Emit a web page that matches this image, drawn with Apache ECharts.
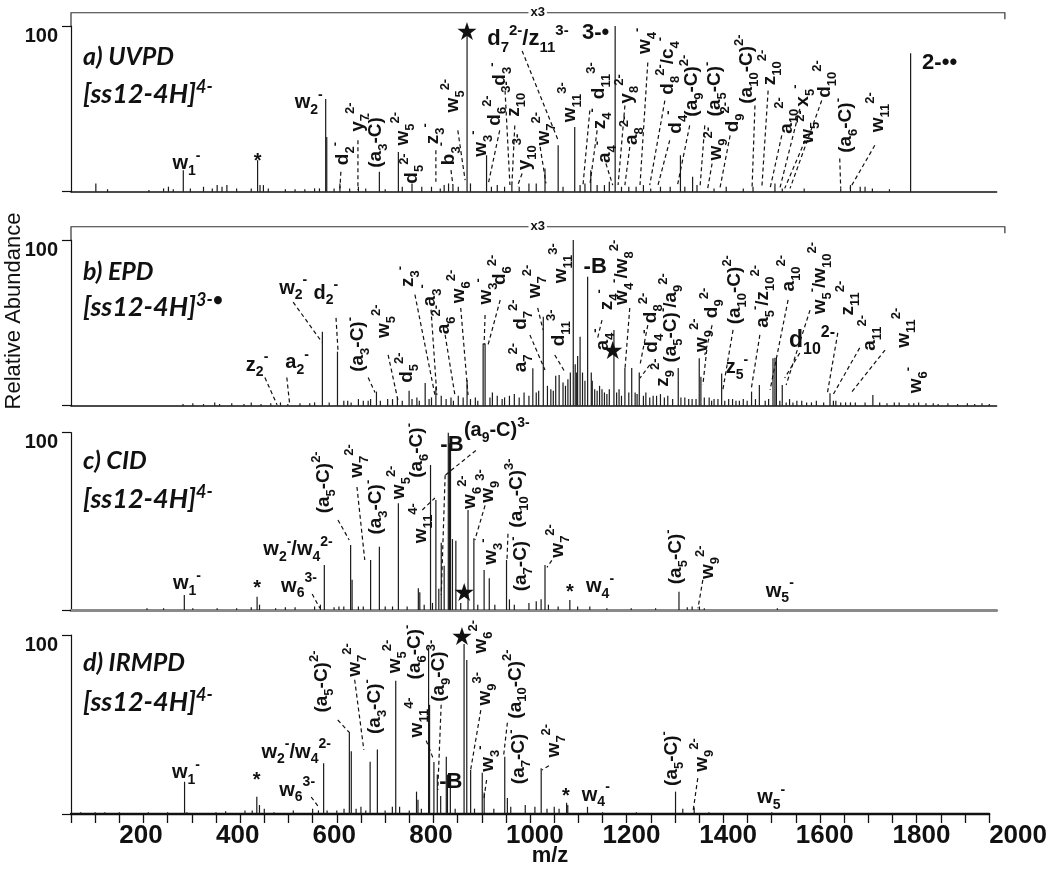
<!DOCTYPE html>
<html><head><meta charset="utf-8">
<script src="https://cdn.jsdelivr.net/npm/echarts@6/dist/echarts.min.js"></script>
<style>html,body{margin:0;padding:0;background:#fff}#c{width:1050px;height:871px}</style>
</head><body><div id="c"></div>
<script>
// ---------- x axis ----------
const XMIN = 100, XMAX = 2000, XSTEP = 50;
const xTickLabels = [200, 400, 600, 800, 1000, 1200, 1400, 1600, 1800, 2000];

// ---------- peaks [m/z, relative abundance] ----------
const peaksA = [[151,5],[175,1.5],[260,1],[290,2],[300,3],[310,1.5],[330.5,13],[345,2],[372,3],[390,2],[400,4],[410,3],[420,4],[440,2],[470,2],[483,19],[488,4],[495,4],[505,2],[540,1.5],[560,1.5],[580,1.5],[600,2],[610,2],[622.8,56],[625,33],[640,2],[652,5],[672,2],[690,3],[705,2],[733,12],[745,1.5],[772,24],[780,3],[800,5],[820,3],[840,3],[858,2],[866,4],[875,5],[884,4],[895,3],[913,96],[920,5],[953,22],[963,3],[975,4],[990,3],[1005,4],[1020,3],[1040,5],[1055,5],[1073,14],[1100,28],[1110,3],[1134,39],[1145,4],[1155,5],[1167,13],[1180,4],[1195,4],[1205,6],[1217,100],[1230,3],[1245,3],[1260,3],[1275,4],[1290,2],[1310,3],[1330,3],[1351,22],[1360,3],[1376,9],[1385,4],[1420,2],[1445,3],[1480,2],[1500,3],[1545,5],[1560,2],[1605,2],[1680,2],[1700,4],[1720,3],[1730,3],[1745,2],[1780,1.5],[1823.5,83.5]];
const peaksB = [[330,1],[350,1.5],[372,1],[395,2],[405,1],[430,1.5],[455,1],[470,2],[490,1],[510,1.5],[530,2],[545,1],[570,1.5],[590,1.5],[600,2],[616,44.7],[630,2],[647,32.6],[660,3],[668,3],[675,2],[690,4],[700,3],[710,3],[715,4],[727,8.5],[735,3],[750,4],[760,4],[770,5],[780,3],[794,9],[800,4],[810,5],[815,3],[827,13.7],[835,4],[840,5],[849,11.5],[860,6],[870,4],[880,5],[885,3],[895,6],[905,5],[913,15.5],[920,4],[930,5],[935,3],[946,37.6],[950,37.6],[960,5],[965,8],[975,6],[985,4],[990,5],[1000,6],[1010,7],[1020,5],[1030,8],[1040,6],[1048,22.6],[1055,8],[1060,9],[1069.5,53.7],[1078,12],[1085,10],[1090,9],[1095,18],[1102,18.6],[1110,14],[1115,12],[1120,16],[1125,20],[1131,100],[1135,25],[1138,20],[1140,30],[1145,41.6],[1150,20],[1155,15],[1160.5,77.8],[1168,20],[1170,15],[1175,10],[1180,9],[1185,12],[1190,10],[1195,8],[1200,7],[1205,10],[1214.5,45.7],[1220,8],[1225,10],[1230,6],[1237,22.7],[1245,8],[1251,22.7],[1258,8],[1262,7],[1266.5,20],[1275,6],[1280,8],[1288,5],[1295,6],[1302,6],[1310,7],[1318,5],[1325,6],[1335,4],[1346.5,22.7],[1352,5],[1360,5],[1368,4],[1375,4],[1383,4],[1389.6,28.6],[1393,17.5],[1400,5],[1410,5],[1415,3],[1420,4],[1428,4],[1435.6,19.5],[1442,3],[1450,4],[1458,4],[1465,3],[1472,3],[1480,4],[1488,3],[1497,8.5],[1505,4],[1513,12.5],[1525,3],[1532,4],[1541,28.6],[1545,29],[1548,28.6],[1555,3],[1560,12.5],[1568,2],[1575,4],[1582,2],[1590,3],[1600,3],[1610,2],[1620,2],[1630,3],[1645,2],[1658,7.5],[1665,3],[1670,3],[1680,2],[1690,2],[1700,2],[1710,2],[1730,2],[1746,6.5],[1760,2],[1775,1.5],[1790,2],[1800,2],[1820,1.5],[1830,1.5],[1840,2],[1855,1.5],[1870,1.5],[1880,1],[1900,1.5],[1920,1],[1940,1.5],[1955,1],[1970,1.5],[1985,1]];
const peaksC = [[256,1],[290,1],[332.6,8.5],[350,1],[400,1],[440,1],[470,1.5],[482,7.5],[487,3],[520,1],[540,1.5],[560,1.5],[600,2],[612,3],[620,25.4],[640,1.5],[650,2],[660,2],[674,36.7],[677,17],[690,2],[700,2],[715,28.2],[733,35.7],[745,2],[760,2],[772,60.2],[790,2],[813,12.2],[816,10],[825,3],[838,81.8],[842,4],[849,62],[855,12],[860,38],[866,25],[874.5,100],[877,94],[879,90],[883,40],[890,39],[900,4],[915,56.4],[927,40.4],[935,3],[948,22.6],[958.6,17.9],[970,3],[994,28.2],[1000,6],[1010,3],[1040,4],[1055,5],[1065,6],[1073,25.4],[1080,3],[1100,2],[1124,5.6],[1140,2],[1165,2],[1200,1],[1250,1],[1300,1],[1348,10.3],[1365,1.5],[1375,2],[1390,2],[1400,1],[1550,1]];
const peaksD = [[120,1],[150,1],[170,1],[200,1],[260,1],[300,1],[335,18],[340,1],[400,1],[420,1.5],[460,2],[475,2],[484.5,9.7],[490,5],[500,3],[520,1],[560,2],[600,3],[612,2],[622.8,28.3],[630,2],[650,2],[665,3],[676,46],[680,35],[690,3],[700,4],[710,2],[719,29.2],[734,36],[750,2],[765,4],[772,74.5],[780,4],[800,2],[815,12.5],[818,8],[825,3],[840,93],[842,61],[851,29],[858,22],[865,10],[876.6,32],[879,22],[885,15],[895,3],[913.4,95],[919,86],[927,24.6],[935,3],[951,23],[955,12],[975,3],[997.6,32],[1003,9],[1010,4],[1040,5],[1060,4],[1073,25.5],[1085,3],[1100,4],[1110,3],[1125.6,6.3],[1128,5],[1168.8,4],[1200,1],[1270,1],[1351,12.5],[1366,3],[1389.6,3.7],[1420,1],[1550,1]];

// ---------- annotations: [text, m/z, abundance, rotation] (positions in data units) ----------
const labelsA = [['w_1^-',337,17,0],['*',483,18,0,20],['w_2^-',588,54,0],['d_2^-',658,23,90],['y_7^{2-}',689,45,90],['(a_3-C)^-',726,31,90],['w_5^{2-}',781,38,90],['d_5^{2-}',800,14,90],['z_3^-',843,35,90],['b_3^-',876,23,90],['w_5^{2-}',884,58,90],['w_3^-',941,29,90],['d_6^{2-}',970,49,90],['d_3^-',980,71,90],['z_{10}^{3-}',1009,56,90],['y_{10}^{3-}',1032,24,90],['w_7^{2-}',1071,38,90],['d_7^{2-}/z_{11}^{3-}',1038,92,0,22],['w_{11}^{3-}',1124,54,90],['d_{11}^{3-}',1184,67,90],['z_4^-',1186,44,90],['a_4^-',1196,24,90],['3-•',1177,96,0,22],['y_8^{2-}',1241,62,90],['a_8^{2-}',1251,37,90],['w_4^-',1278,91,90],['d_8^{2-}/c_4^-',1325,76,90],['d_4^-',1342,42,90],['(a_9-C)^{2-}',1375,64,90],['(a_5-C)^-',1422,62,90],['w_9^{2-}',1424,29,90],['d_9^{2-}',1459,45,90],['(a_{10}-C)^{2-}',1488,74,90],['z_{10}^{2-}',1535,75,90],['a_{10}^{2-}',1570,46,90],['x_5^-',1602,58,90],['w_5^{2-}',1613,39,90],['d_{10}^{2-}',1648,68,90],['(a_6-C)^-',1691,40,90],['w_{11}^{2-}',1757,48,90],['2-••',1883,78,0,22]];
const labelsB = [['z_2^-',482,24.5,0],['a_2^-',564,26,0],['w_2^-',556,71,0],['d_2^-',623,68,0],['(a_3-C)^-',689,37,90],['w_5^{2-}',742,51,90],['d_5^{2-}',790,23,90],['z_3^-',792,78,90],['a_3^-',837,66.6,90],['a_6^{2-}',866,52,90],['w_6^{2-}',896,72,90],['w_3^-',952,69,90],['d_6^{2-}',981,82,90],['a_7^{2-}',1024,29,90],['d_7^{2-}',1024,55,90],['w_7^{2-}',1052,75,90],['d_{11}^{3-}',1102,47,90],['w_{11}^{3-}',1106,86,90],['-B',1176,84,0,22],['a_4^-',1192,40,90],['z_4^-',1200,64,90],['w_4^-/w_8^{2-}',1231,80.5,90],['d_4^-',1293,39,90],['d_8^{2-}',1290,59,90],['z_9^{2-}',1315,20,90],['(a_5-C)^-/a_9^{2-}',1332,53,90],['w_9^{2-}',1395,42.5,90],['d_9^{2-}',1416,62,90],['(a_{10}-C)^{2-}',1463,70,90],['z_5^-',1467,23,0],['a_5^-/z_{10}^{2-}',1520,66,90],['a_{10}^{2-}',1574,80,90],['w_5^-/w_{10}^{2-}',1637,77,90],['d_{10}^{2-}',1621,39,0,23],['z_{11}^{2-}',1695,65,90],['a_{11}^{2-}',1740,44,90],['w_{11}^{2-}',1810,47,90],['w_6^-',1834,15.5,90]];
const labelsC = [['w_1^-',338,15,0],['*',482,12.4,0,20],['w_6^{3-}',568,13.5,0],['w_2^-/w_4^{2-}',566,34,0],['(a_5-C)^{2-}',619,72,90],['w_7^{2-}',687,84,90],['(a_3-C)^-',726,58,90],['w_5^{2-}',773,72,90],['(a_6-C)^-',810,90,90],['w_{11}^{4-}',818,49,90],['-B',882,93,0,22],['(a_9-C)^{3-}',974,101,0,20],['w_6^{2-}',919,66.5,90],['w_9^{3-}',956,70,90],['(a_{10}-C)^{3-}',1015,66,90],['w_3^-',962,33,90],['(a_7-C)^-',1024,26,90],['w_7^{2-}',1100,39,90],['*',1124,10,0,20],['w_4^-',1186,13,0],['(a_5-C)^-',1342,30,90],['w_9^{2-}',1407,27,90],['w_5^-',1555,10.7,0]];
const labelsD = [['w_1^-',338,23,0],['*',484,19,0,20],['w_6^{3-}',568,13.4,0],['w_2^-/w_4^{2-}',566,34.6,0],['(a_5-C)^{2-}',619,74,90],['w_7^{2-}',687,86,90],['(a_3-C)^-',728,60,90],['w_5^{2-}',771,88,90],['(a_6-C)^-',812,90.5,90],['(a_9-C)^{3-}',861.5,80,90],['w_{11}^{4-}',816,54,90],['-B',886,18,0,22],['w_6^{2-}',948,99,90],['w_9^{3-}',956,70,90],['(a_{10}-C)^{2-}',1019.5,72.6,90],['w_3^-',962,31,90],['(a_7-C)^-',1026,32,90],['w_7^{2-}',1100,41,90],['*',1124,10,0,20],['w_4^-',1186,10.6,0],['(a_5-C)^-',1344,31,90],['w_9^{2-}',1405.5,33,90],['w_5^-',1549,9,0]];

// dashed leader lines [m/z1, ab1, m/z2, ab2]
const leadersA = [[654,12,652,2],[689,31,689,1],[849,25,849,6],[880,13,884,4],[894,37,909,7],[980,37,956,4],[991,61,1001,4],[1011,40,1005,4],[1026,11,1016,3],[1063,27,1075,5],[1026,85,1100,31],[1165,49,1151,4],[1180,37,1165,4],[1198,17,1212,4],[1237,52,1223,4],[1247,27,1237,4],[1284,78,1268,4],[1319,55,1288,4],[1329,31,1305,4],[1370,40,1345,4],[1401,40,1391,2],[1416,17,1407,2],[1453,34,1432,2],[1504,52,1498,2],[1531,61,1518,2],[1559,34,1535,2],[1596,50,1555,2],[1607,31,1565,2],[1641,55,1576,2],[1678,20,1680,2],[1750,28,1699,2]];
const leadersB = [[498,17,523,0.5],[543,17,549,0.5],[556,62.5,615,38.4],[644,53,648,33.6],[710,17,724,8],[751,30.6,771,3.4],[806,67,847,6.5],[839,58,851,6.5],[868,42.7,888,6.5],[900,59,915,6.5],[950,54.7,948,36.6],[981,63.8,956,36.6],[1042,42.7,1073,21.5],[1058,59,1069,45.7],[1093,30.6,1114,20.3],[1190,51.7,1180,39.6],[1247,59,1237,21.5],[1288,24.6,1268,16.7],[1284,48.6,1268,24.6],[1405,33.6,1397,12.5],[1416,48.6,1401,30.6],[1459,45.7,1438,9.5],[1514,42.7,1496,9.5],[1572,63.8,1535,9.5],[1617,57.7,1568,12.5],[1596,31.8,1565,16.7],[1674,43.9,1652,6.5],[1719,34.9,1664,6.5],[1771,33.6,1701,7.7]];
const leadersC = [[595,9,611,1],[648,50.8,671,39.5],[687,69.4,703,28.2],[821,56.4,847,63.2],[931,90,868,76],[868,76,860,8.5],[950,59,929,39.5],[997,43,995,28],[1087,28,1077,24],[1397,17,1387,1]];
const leadersD = [[597,9.5,611,4.5],[652,52.5,675,45.8],[687,75,706,35.8],[866,61,859,13.4],[835,41,851,30],[948,58,927,24.6],[960,19,954,7.8],[1089,27,1075,24.6],[1397,20,1387,1],[1003,51,995,32]];

// precursor stars [m/z, ab]
const starsA = [[913,95.2]], starsB = [[1212,32]], starsC = [[907,8.5]], starsD = [[909,98]];

// titles
const titles = [['a) UVPD','4-'],['b) EPD','3-•'],['c) CID','4-'],['d) IRMPD','4-']];

// ---------- rendering ----------
const LF = 'Liberation Sans, Arial, sans-serif';
const TF = 'Lato, Open Sans, sans-serif';
function markup(s){
  let out='', buf='', i=0;
  const flush=()=>{ if(buf){ out+='{m|'+buf+'}'; buf=''; } };
  while(i<s.length){
    const c=s[i];
    if((c==='_'||c==='^') && i+1<s.length){
      flush(); let t;
      if(s[i+1]==='{'){ const j=s.indexOf('}',i+2); t=s.slice(i+2,j); i=j+1; }
      else { t=s[i+1]; i+=2; }
      out+='{'+(c==='_'?'b':'p')+'|'+t+'}';
    } else { buf+=c; i++; }
  }
  flush(); return out;
}
function richFor(size){
  const ss = Math.round(size*0.68);
  return {
    m:{fontSize:size,fontWeight:'bold',fontFamily:LF,fill:'#111',lineHeight:Math.round(size*1.45),verticalAlign:'middle'},
    b:{fontSize:ss,fontWeight:'bold',fontFamily:LF,fill:'#111',lineHeight:ss,verticalAlign:'bottom'},
    p:{fontSize:ss,fontWeight:'bold',fontFamily:LF,fill:'#111',lineHeight:ss,verticalAlign:'top'}
  };
}

const panels = [
  {peaks:peaksA,labels:labelsA,leaders:leadersA,stars:starsA,top:26,height:165.7,bracket:true,base:['#111',1.6]},
  {peaks:peaksB,labels:labelsB,leaders:leadersB,stars:starsB,top:240,height:165.7,bracket:true,base:['#111',1.6]},
  {peaks:peaksC,labels:labelsC,leaders:leadersC,stars:starsC,top:432.7,height:177.3,bracket:false,base:['#8a8a8a',3]},
  {peaks:peaksD,labels:labelsD,leaders:leadersD,stars:starsD,top:635,height:179,bracket:false,base:['#111',2.4],ticks:true}
];

const grid=[], xAxis=[], yAxis=[], series=[];
panels.forEach((P,i)=>{
  grid.push({left:71, width:925.6, top:P.top, height:P.height});
  xAxis.push({gridIndex:i,type:'value',min:XMIN,max:XMAX,interval:XSTEP,
    axisLine:{show:true,onZero:false,lineStyle:{color:P.base[0],width:P.base[1]}},
    axisTick:{show:!!P.ticks,length:9,lineStyle:{color:'#111',width:1.3}},
    axisLabel:{show:!!P.ticks,formatter:v=>xTickLabels.indexOf(v)>=0?String(v):'',align:'left',margin:9,
      fontSize:26,fontWeight:'bold',color:'#111',fontFamily:LF},
    splitLine:{show:false}});
  yAxis.push({gridIndex:i,type:'value',min:0,max:100,interval:100,
    axisLine:{show:true,lineStyle:{color:'#111',width:1.2}},
    axisTick:{show:true,length:9,lineStyle:{color:'#111',width:1.2}},
    axisLabel:{formatter:v=>v===100?'100':'',fontSize:20,fontWeight:'bold',color:'#111',margin:13,verticalAlign:'top',fontFamily:LF},
    splitLine:{show:false}});
  series.push({type:'custom',xAxisIndex:i,yAxisIndex:i,silent:true,
    data:P.peaks, encode:{x:0,y:1},
    renderItem:(params,api)=>{
      const a=api.coord([api.value(0),0]), b=api.coord([api.value(0),api.value(1)]);
      return {type:'line',shape:{x1:a[0],y1:a[1],x2:b[0],y2:b[1]},style:{stroke:'#1a1a1a',lineWidth:1.2}};
    }});
  series.push({type:'custom',xAxisIndex:i,yAxisIndex:i,silent:true,
    data:P.leaders, encode:{x:[0,2],y:[1,3]},
    renderItem:(params,api)=>{
      const a=api.coord([api.value(0),api.value(1)]), b=api.coord([api.value(2),api.value(3)]);
      return {type:'line',shape:{x1:a[0],y1:a[1],x2:b[0],y2:b[1]},style:{stroke:'#111',lineWidth:1.2,lineDash:[4,3]}};
    }});
  series.push({type:'custom',xAxisIndex:i,yAxisIndex:i,silent:true,
    data:P.labels.map(l=>[l[1],l[2]]), encode:{x:0,y:1},
    renderItem:(params,api)=>{
      const L=P.labels[params.dataIndex], size=L[4]||(L[3]?19:20);
      const p=api.coord([api.value(0),api.value(1)]);
      return {type:'text',x:p[0],y:p[1],rotation:L[3]?Math.PI/2:0,
        style:{text:markup(L[0]),rich:richFor(size),align:'center',verticalAlign:'middle',
          fontSize:size,fontWeight:'bold',fontFamily:LF,fill:'#111'}};
    }});
  series.push({type:'custom',xAxisIndex:i,yAxisIndex:i,silent:true,
    data:P.stars, encode:{x:0,y:1},
    renderItem:(params,api)=>{
      const p=api.coord([api.value(0),api.value(1)]);
      return {type:'text',x:p[0],y:p[1],style:{text:'★',fontSize:25,fontFamily:'DejaVu Sans',fill:'#111',align:'center',verticalAlign:'middle'}};
    }});
  if(P.bracket){
    series.push({type:'custom',xAxisIndex:i,yAxisIndex:i,silent:true,
      data:[[XMIN,108]], encode:{x:0,y:1},
      renderItem:(params,api)=>{
        const y=api.value(1);
        const p1=api.coord([XMIN,100]), p2=api.coord([XMIN,y]), p3=api.coord([2017,y]), p4=api.coord([2017,y-4]);
        const t=api.coord([1058,y]);
        return {type:'group',children:[
          {type:'polyline',shape:{points:[p1,p2,p3,p4]},style:{stroke:'#333',lineWidth:1.2,fill:null}},
          {type:'text',x:t[0],y:t[1],style:{text:'x3',fontSize:13,fontWeight:'bold',fontFamily:LF,fill:'#111',
            align:'center',verticalAlign:'middle',backgroundColor:'#fff',padding:[0,2]}}
        ]};
      }});
  }
});

const titleTops = [[44,78],[259,291],[448,483],[650,686]];
const graphic = [];
titles.forEach((t,i)=>{
  graphic.push({type:'text',left:83,top:titleTops[i][0],style:{text:t[0],fontSize:25,fontWeight:'bold',fontStyle:'italic',fontFamily:TF,fill:'#111'}});
  graphic.push({type:'text',left:83,top:titleTops[i][1],style:{text:'{m|[ss12-4H]}{p|'+t[1]+'}',
    rich:{m:{fontSize:27,fontWeight:'bold',fontStyle:'italic',fontFamily:TF,fill:'#111',lineHeight:32,verticalAlign:'middle'},
          p:{fontSize:18,fontWeight:'bold',fontStyle:'italic',fontFamily:TF,fill:'#111',lineHeight:18,verticalAlign:'top'}}}});
});
graphic.push({type:'text',x:14,y:311,rotation:Math.PI/2,style:{text:'Relative Abundance',fontSize:22,fontFamily:LF,fill:'#111',align:'center',verticalAlign:'middle'}});
graphic.push({type:'text',x:550,y:856,style:{text:'m/z',fontSize:22,fontWeight:'bold',fontFamily:LF,fill:'#111',align:'center',verticalAlign:'middle'}});

const chart = echarts.init(document.getElementById('c'),null,{renderer:'canvas'});
chart.setOption({animation:false,backgroundColor:'#fff',grid,xAxis,yAxis,series,graphic});
</script></body></html>
